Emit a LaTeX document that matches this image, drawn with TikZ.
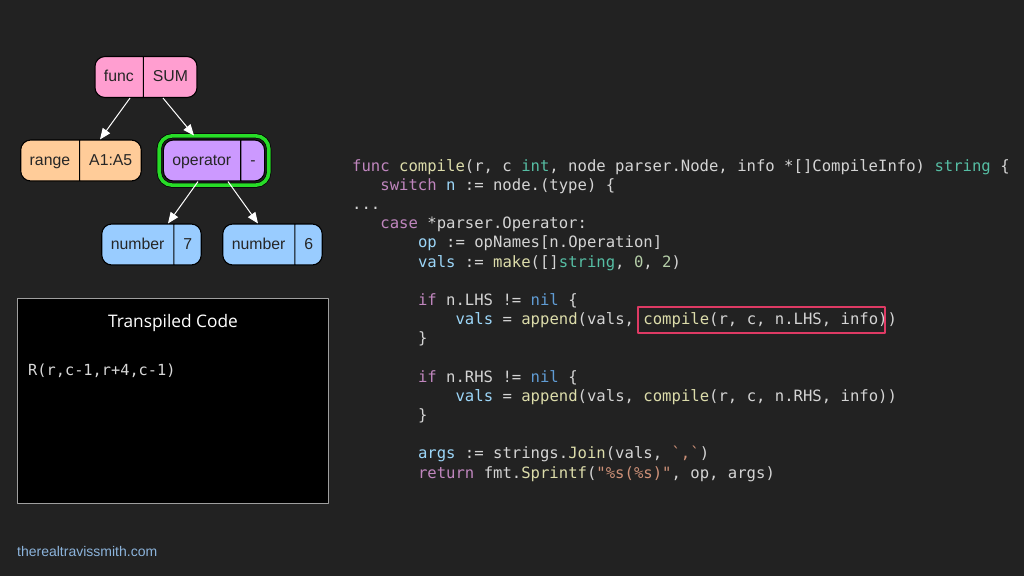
\documentclass[tikz,border=0pt]{standalone}
\usepackage{fontspec}
\setmainfont{Liberation Sans}
\newfontfamily\codefont{DejaVu Sans Mono}
\newfontfamily\titlefont{Open Sans}
\usepackage{tikz}
\usetikzlibrary{arrows.meta,shapes.multipart,fit}
\usetikzlibrary{positioning}
\definecolor{bgdark}{RGB}{34,34,34}
\definecolor{plain}{RGB}{212,212,212}
\definecolor{kwcol}{RGB}{192,134,190}
\definecolor{fncol}{RGB}{220,220,170}
\definecolor{tycol}{RGB}{86,190,164}
\definecolor{varcol}{RGB}{156,214,248}
\definecolor{nilcol}{RGB}{96,156,212}
\definecolor{numcol}{RGB}{181,206,168}
\definecolor{strcol}{RGB}{206,145,120}
\definecolor{funcpink}{RGB}{255,158,208}
\definecolor{rangeorange}{RGB}{255,204,153}
\definecolor{oppurple}{RGB}{204,153,255}
\definecolor{numblue}{RGB}{153,204,255}
\definecolor{hlgreencol}{RGB}{40,220,40}
\definecolor{hlredcol}{RGB}{222,58,100}
\definecolor{linkblue}{RGB}{140,180,220}
\newcommand\ckw[1]{\textcolor{kwcol}{#1}}
\newcommand\cfn[1]{\textcolor{fncol}{#1}}
\newcommand\cty[1]{\textcolor{tycol}{#1}}
\newcommand\cvar[1]{\textcolor{varcol}{#1}}
\newcommand\cnil[1]{\textcolor{nilcol}{#1}}
\newcommand\cnum[1]{\textcolor{numcol}{#1}}
\newcommand\cstr[1]{\textcolor{strcol}{#1}}
\newcommand\tstrut{\rule[-5pt]{0pt}{19.5pt}}
\tikzset{astnode/.style={rectangle split,rectangle split horizontal,rectangle split parts=2,
    draw=black,line width=1.1pt,rounded corners=10pt,inner xsep=9pt,inner ysep=10.75pt,
    text=black!85,font=\fontsize{15.8}{18}\selectfont},
  arr/.style={->,white,line width=1pt},
  codeline/.style={anchor=base west,inner sep=0pt,text=plain,font=\codefont\fontsize{15.6}{19}\selectfont}}

\begin{document}
\begin{tikzpicture}[x=1pt,y=-1pt,>={Triangle[length=11pt,width=9pt]},line join=round]
\fill[bgdark] (0,0) rectangle (1024,576);
% --- AST
\node[astnode,fill=funcpink] (func) at (146,77) {func\tstrut\nodepart{two}SUM\tstrut};
\node[astnode,fill=rangeorange] (range) at (81,160.5) {range\tstrut\nodepart{two}A1:A5\tstrut};
\node[astnode,fill=oppurple] (op) at (214,160.5) {operator\tstrut\nodepart{two}-\tstrut};
\node[astnode,fill=numblue] (seven) at (151.5,244.5) {number\tstrut\nodepart{two}7\tstrut};
\node[astnode,fill=numblue] (six) at (272.5,244.5) {number\tstrut\nodepart{two}6\tstrut};
\node[fit=(op),inner sep=3.6pt,rounded corners=13pt,draw=black,line width=0.7pt,double=hlgreencol,double distance=3.6pt] (hl) {};
\draw[arr] ([xshift=-16pt]func.south) -- ([xshift=19pt]range.north);
\draw[arr] ([xshift=17pt]func.south) -- ([xshift=-20pt]hl.north);
\draw[arr] ([xshift=-16pt]op.south) -- ([xshift=16.5pt]seven.north);
\draw[arr] ([xshift=14pt]op.south) -- ([xshift=-14.5pt]six.north);
% --- transpiled output
\node[fill=black,draw=gray!75,line width=1.5pt,minimum width=311pt,minimum height=205pt,inner sep=0pt] (tbox) at (173,401) {};
\node[anchor=base,inner sep=0pt,text=white,font=\titlefont\fontsize{17.3}{20}\selectfont] (ttitle) at (173,327) {Transpiled Code};
\node[codeline,text=plain!90,font=\codefont\fontsize{15.3}{19}\selectfont] (tout) at (28,375.5) {R(r,c-1,r+4,c-1)};
% --- go source
\node[codeline] (l1) at (352,171) {\ckw{func} \cfn{compile}(r, c \cty{int}, node parser.Node, info *[]CompileInfo) \cty{string} \{};
\node[codeline] (l2) at (380.2,190.2) {\ckw{switch} \cvar{n} := node.(type) \{};
\node[codeline] (l3) at (352,209.4) {...};
\node[codeline] (l4) at (380.2,228.6) {\ckw{case} *parser.Operator:};
\node[codeline] (l5) at (417.8,247.8) {\cvar{op} := opNames[n.Operation]};
\node[codeline] (l6) at (417.8,267) {\cvar{vals} := \cfn{make}([]\cty{string}, \cnum{0}, \cnum{2})};
\node[codeline] (l8) at (417.8,305.3) {\ckw{if} n.LHS != \cnil{nil} \{};
\node[codeline] (l9) at (455.4,324.5) {\cvar{vals} = \cfn{append}(vals, \cfn{compile}(r, c, n.LHS, info))};
\node[codeline] (l10) at (417.8,343.7) {\}};
\node[codeline] (l12) at (417.8,382.1) {\ckw{if} n.RHS != \cnil{nil} \{};
\node[codeline] (l13) at (455.4,401.3) {\cvar{vals} = \cfn{append}(vals, \cfn{compile}(r, c, n.RHS, info))};
\node[codeline] (l14) at (417.8,420.5) {\}};
\node[codeline] (l16) at (417.8,458.8) {\cvar{args} := strings.\cfn{Join}(vals, \cstr{`,`})};
\node[codeline] (l17) at (417.8,478) {\ckw{return} fmt.\cfn{Sprintf}(\cstr{"\%s(\%s)"}, op, args)};
\node[draw=hlredcol,line width=2pt,minimum width=247pt,minimum height=26pt,inner sep=0pt] (lhs) at (761.5,320) {};
% --- footer
\node[anchor=base west,inner sep=0pt,text=linkblue,font=\fontsize{14}{16}\selectfont] (site) at (17,556) {therealtravissmith.com};
\end{tikzpicture}
\end{document}
